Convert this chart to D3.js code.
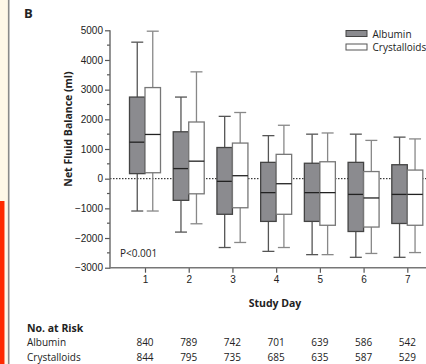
<!DOCTYPE html>
<html>
<head>
<meta charset="utf-8">
<script src="https://cdn.jsdelivr.net/npm/d3@7"></script>
<style>
  body { margin: 0; background: #fff; }
  svg { display: block; font-family: "Open Sans", "Noto Sans", sans-serif; }
</style>
</head>
<body>
<div id="chart"></div>
<script>
// study days
const days = [1, 2, 3, 4, 5, 6, 7];

// albumin box stats (ml)
const albMax = [4600, 2750, 2100, 1450, 1500, 1500, 1400];
const albQ3 = [2750, 1580, 1050, 550, 520, 550, 470];
const albMed = [1230, 340, -90, -470, -470, -530, -530];
const albQ1 = [170, -730, -1200, -1440, -1440, -1780, -1510];
const albMin = [-1090, -1800, -2320, -2450, -2560, -2650, -2650];

// crystalloids box stats (ml)
const cryMax = [4970, 3600, 2230, 1800, 1540, 1290, 1340];
const cryQ3 = [3070, 1910, 1200, 820, 570, 240, 290];
const cryMed = [1490, 590, 100, -170, -470, -650, -530];
const cryQ1 = [200, -510, -980, -1200, -1570, -1630, -1570];
const cryMin = [-1090, -1520, -2150, -2320, -2560, -2520, -2490];

// number at risk
const riskAlbumin = [840, 789, 742, 701, 639, 586, 542];
const riskCrystalloids = [844, 795, 735, 685, 635, 587, 529];

const yTicks = [-3000, -2000, -1000, 0, 1000, 2000, 3000, 4000, 5000];

const width = 426;
const height = 364;

const svg = d3.select('#chart').append('svg')
    .attr('width', width)
    .attr('height', height);

// page edge decoration
svg.append('rect').attr('x', 0).attr('y', 0).attr('width', 8).attr('height', 201).attr('fill', '#fff8e8');
svg.append('rect').attr('x', 0).attr('y', 201).attr('width', 4.7).attr('height', height - 201).attr('fill', '#ff2a00');
svg.append('rect').attr('x', 4.7).attr('y', 201).attr('width', 3.3).attr('height', height - 201).attr('fill', '#fff8e8');
svg.append('line').attr('x1', 8.7).attr('x2', 8.7).attr('y1', 0).attr('y2', height)
    .attr('stroke', '#8a8a8a').attr('stroke-width', 1.6);

// scales
const x = d3.scaleLinear().domain([1, 7]).range([145, 407.3]);
const y = d3.scaleLinear().domain([-3000, 5000]).range([267.7, 30.3]);
const axisLeft = 110;

// panel letter
svg.append('text').attr('x', 24).attr('y', 18)
    .attr('font-size', 13).attr('font-weight', 'bold').attr('fill', '#222').text('B');

// zero reference line
svg.append('line')
    .attr('x1', axisLeft).attr('x2', width)
    .attr('y1', y(0)).attr('y2', y(0))
    .attr('stroke', '#111').attr('stroke-width', 1)
    .attr('stroke-dasharray', '1.5,1.5');

// y axis
const yAxis = d3.axisLeft(y).tickValues(yTicks).tickSize(5).tickPadding(2)
    .tickFormat(d => d < 0 ? '\u2212' + Math.abs(d) : d);
const gy = svg.append('g').attr('transform', `translate(${axisLeft},0)`).call(yAxis);
gy.select('.domain').remove();
gy.selectAll('.tick line').attr('stroke', '#555').attr('stroke-width', 1.2);
gy.selectAll('.tick text').attr('font-size', 10).attr('fill', '#222');

const minorTicks = d3.range(-2500, 5000, 1000);
svg.append('g').selectAll('line').data(minorTicks).join('line')
    .attr('x1', axisLeft - 3).attr('x2', axisLeft)
    .attr('y1', d => y(d)).attr('y2', d => y(d))
    .attr('stroke', '#555').attr('stroke-width', 1.2);

svg.append('line')
    .attr('x1', axisLeft).attr('x2', axisLeft)
    .attr('y1', y(5000)).attr('y2', y(-3000) + 0.7)
    .attr('stroke', '#666').attr('stroke-width', 1.4);

// x axis
const xAxis = d3.axisBottom(x).tickValues(days).tickSize(5).tickPadding(3).tickFormat(d3.format('d'));
const gx = svg.append('g').attr('transform', `translate(0,${y(-3000)})`).call(xAxis);
gx.select('.domain').remove();
gx.selectAll('.tick line').attr('stroke', '#555').attr('stroke-width', 1.2);
gx.selectAll('.tick text').attr('font-size', 10).attr('fill', '#222');
svg.append('line')
    .attr('x1', axisLeft).attr('x2', width)
    .attr('y1', y(-3000)).attr('y2', y(-3000))
    .attr('stroke', '#777').attr('stroke-width', 1.6);

// boxes
const boxW = 15.5;
const capW = 12;

function drawBoxes(stats, offset, fill, edge, whisk) {
  const g = svg.append('g');
  const rows = days.map((d, i) => ({
    day: d, min: stats[0][i], q1: stats[1][i], med: stats[2][i], q3: stats[3][i], max: stats[4][i]
  }));
  const cx = d => x(d.day) + offset * boxW / 2;

  g.selectAll('line.whisker').data(rows).join('line')
      .attr('class', 'whisker')
      .attr('x1', cx).attr('x2', cx)
      .attr('y1', d => y(d.max)).attr('y2', d => y(d.min))
      .attr('stroke', whisk).attr('stroke-width', 1.3);
  g.selectAll('line.capTop').data(rows).join('line')
      .attr('class', 'capTop')
      .attr('x1', d => cx(d) - capW / 2).attr('x2', d => cx(d) + capW / 2)
      .attr('y1', d => y(d.max)).attr('y2', d => y(d.max))
      .attr('stroke', whisk).attr('stroke-width', 1.3);
  g.selectAll('line.capBot').data(rows).join('line')
      .attr('class', 'capBot')
      .attr('x1', d => cx(d) - capW / 2).attr('x2', d => cx(d) + capW / 2)
      .attr('y1', d => y(d.min)).attr('y2', d => y(d.min))
      .attr('stroke', whisk).attr('stroke-width', 1.3);
  g.selectAll('rect').data(rows).join('rect')
      .attr('x', d => cx(d) - boxW / 2)
      .attr('y', d => y(d.q3))
      .attr('width', boxW)
      .attr('height', d => y(d.q1) - y(d.q3))
      .attr('fill', fill).attr('stroke', edge).attr('stroke-width', 1.3);
  g.selectAll('line.median').data(rows).join('line')
      .attr('class', 'median')
      .attr('x1', d => cx(d) - boxW / 2).attr('x2', d => cx(d) + boxW / 2)
      .attr('y1', d => y(d.med)).attr('y2', d => y(d.med))
      .attr('stroke', '#222').attr('stroke-width', 1.3);
}

drawBoxes([albMin, albQ1, albMed, albQ3, albMax], -1, '#8b8b8f', '#444', '#555');
drawBoxes([cryMin, cryQ1, cryMed, cryQ3, cryMax], 1, '#ffffff', '#777', '#888');

// legend
const legend = [
  {name: 'Albumin', fill: '#8b8b8f', edge: '#444'},
  {name: 'Crystalloids', fill: '#ffffff', edge: '#555'}
];
const lg = svg.append('g').selectAll('g').data(legend).join('g')
    .attr('transform', (d, i) => `translate(346,${30.5 + i * 13.5})`);
lg.append('rect').attr('width', 21).attr('height', 6)
    .attr('fill', d => d.fill).attr('stroke', d => d.edge).attr('stroke-width', 1);
lg.append('text').attr('x', 26.5).attr('y', 7).attr('font-size', 10).attr('fill', '#222')
    .text(d => d.name);

// y label
svg.append('text')
    .attr('transform', `translate(72,129) rotate(-90)`)
    .attr('text-anchor', 'middle')
    .attr('font-size', 10.5).attr('font-weight', 'bold').attr('fill', '#222')
    .text('Net Fluid Balance (ml)');

// p value
svg.append('text').attr('x', 120).attr('y', 256.5)
    .attr('font-size', 10).attr('fill', '#222').text('P<0.001');

// x label
svg.append('text').attr('x', 275).attr('y', 307)
    .attr('text-anchor', 'middle')
    .attr('font-size', 10.5).attr('font-weight', 'bold').attr('fill', '#222')
    .text('Study Day');

// number at risk table
svg.append('text').attr('x', 27).attr('y', 331.5)
    .attr('font-size', 10.5).attr('font-weight', 'bold').attr('fill', '#222')
    .text('No. at Risk');
svg.append('text').attr('x', 27).attr('y', 345.5)
    .attr('font-size', 10).attr('fill', '#222').text('Albumin');
svg.append('text').attr('x', 27).attr('y', 360.5)
    .attr('font-size', 10).attr('fill', '#222').text('Crystalloids');

svg.append('g').selectAll('text').data(riskAlbumin).join('text')
    .attr('x', (d, i) => x(days[i])).attr('y', 345.5)
    .attr('text-anchor', 'middle').attr('font-size', 10).attr('fill', '#222')
    .text(d => d);
svg.append('g').selectAll('text').data(riskCrystalloids).join('text')
    .attr('x', (d, i) => x(days[i])).attr('y', 360.5)
    .attr('text-anchor', 'middle').attr('font-size', 10).attr('fill', '#222')
    .text(d => d);
</script>
</body>
</html>
